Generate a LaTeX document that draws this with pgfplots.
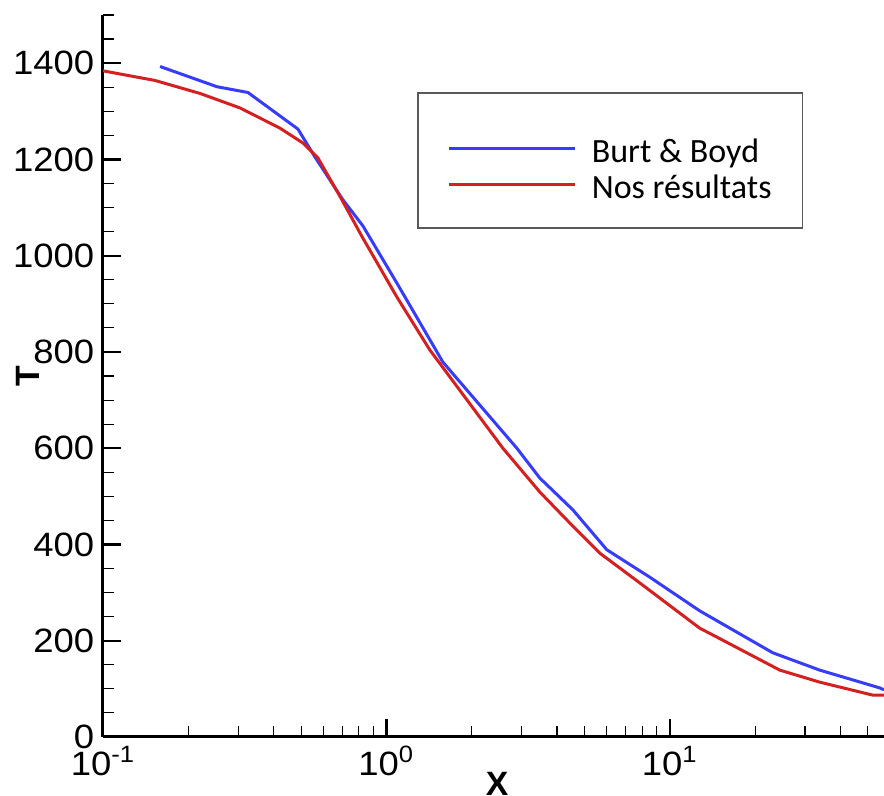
\documentclass[border=0pt]{standalone}
\usepackage{fontspec}
\setmainfont{Liberation Sans}
\newfontfamily\tickfont[FakeStretch=1.08]{Liberation Sans}
\newfontfamily\legfont{Carlito}
\usepackage{pgfplots}
\pgfplotsset{compat=1.18}
\definecolor{bblue}{RGB}{55,60,250}
\definecolor{rred}{RGB}{212,32,32}
\begin{document}
\begin{tikzpicture}
\begin{axis}[
 at={(0,0)}, anchor=south west,
 scale only axis, width=312.4pt, height=288.8pt,
 xmode=log, xmin=0.1, xmax=57, ymin=0, ymax=1500,
 axis x line=bottom, axis y line=left,
 axis line style={-, line width=1.2pt},
 xtick={0.1,1,10},
 xticklabels={10\textsuperscript{-1},10\textsuperscript{0},10\textsuperscript{1}},
 minor xtick={0.2,0.3,0.4,0.5,0.6,0.7,0.8,0.9,2,3,4,5,6,7,8,9,20,30,40,50},
 ytick={0,200,...,1400},
 minor ytick={50,100,...,1500},
 tick align=inside,
 major tick length=7.2pt, minor tick length=4.4pt,
 every major tick/.style={line width=0.9pt, black},
 every minor tick/.style={line width=0.45pt, black},
 ticklabel style={font=\tickfont\fontsize{13.5}{15}\selectfont},
 /pgf/number format/assume math mode=true,
 /pgf/number format/1000 sep={},
 xlabel={X}, ylabel={T},
 label style={font=\fontsize{13.5}{16}\selectfont\bfseries},
 xlabel style={at={(axis description cs:0.5045,-0.065)}, anchor=center},
 ylabel style={at={(axis description cs:-0.096,0.5)}, anchor=center},
 legend style={at={(axis description cs:0.402,0.893)}, anchor=north west,
   draw=black!65, line width=0.7pt, font=\legfont\fontsize{13.6}{16}\selectfont,
   inner xsep=10.4pt, inner ysep=8.4pt, row sep=-8.6pt,
   cells={inner xsep=3.2pt, inner ysep=0pt, text height=17.4pt, text depth=0pt}},
 legend cell align=left,
 legend image code/.code={\path (0pt,0pt) (56pt,0pt);
   \begin{pgfinterruptboundingbox}\draw[#1, line width=1.2pt] (1.6pt,-2.4pt) -- (52pt,-2.4pt);\end{pgfinterruptboundingbox}},
]
\addplot[bblue, line width=1.2pt] coordinates {(0.159,1393) (0.2524,1351) (0.3247,1339) (0.4874,1263) (0.5596,1205) (0.7026,1116) (0.826,1062) (1.089,943) (1.582,779) (2.886,600) (3.478,538) (4.548,472) (5.995,389) (8.502,332) (12.76,262) (23.08,175) (33.8,139) (55.06,102) (57,98)};
\addlegendentry{Burt \& Boyd}
\addplot[rred, line width=1.2pt] coordinates {(0.1,1384) (0.1526,1364) (0.22,1337) (0.3042,1307) (0.421,1265) (0.5076,1234) (0.5734,1203) (0.6966,1116) (0.8196,1040) (1.089,914) (1.4235,804) (2.576,600) (3.478,509) (4.331,451) (5.663,382) (7.841,320) (12.76,226) (14.18,212) (24.43,139) (33.8,114) (52.0,87) (57,87)};
\addlegendentry{Nos résultats}
\end{axis}
\pgfresetboundingbox
\useasboundingbox (-41.2pt,-23.6pt) rectangle (312.4pt,294.8pt);
\end{tikzpicture}
\end{document}
